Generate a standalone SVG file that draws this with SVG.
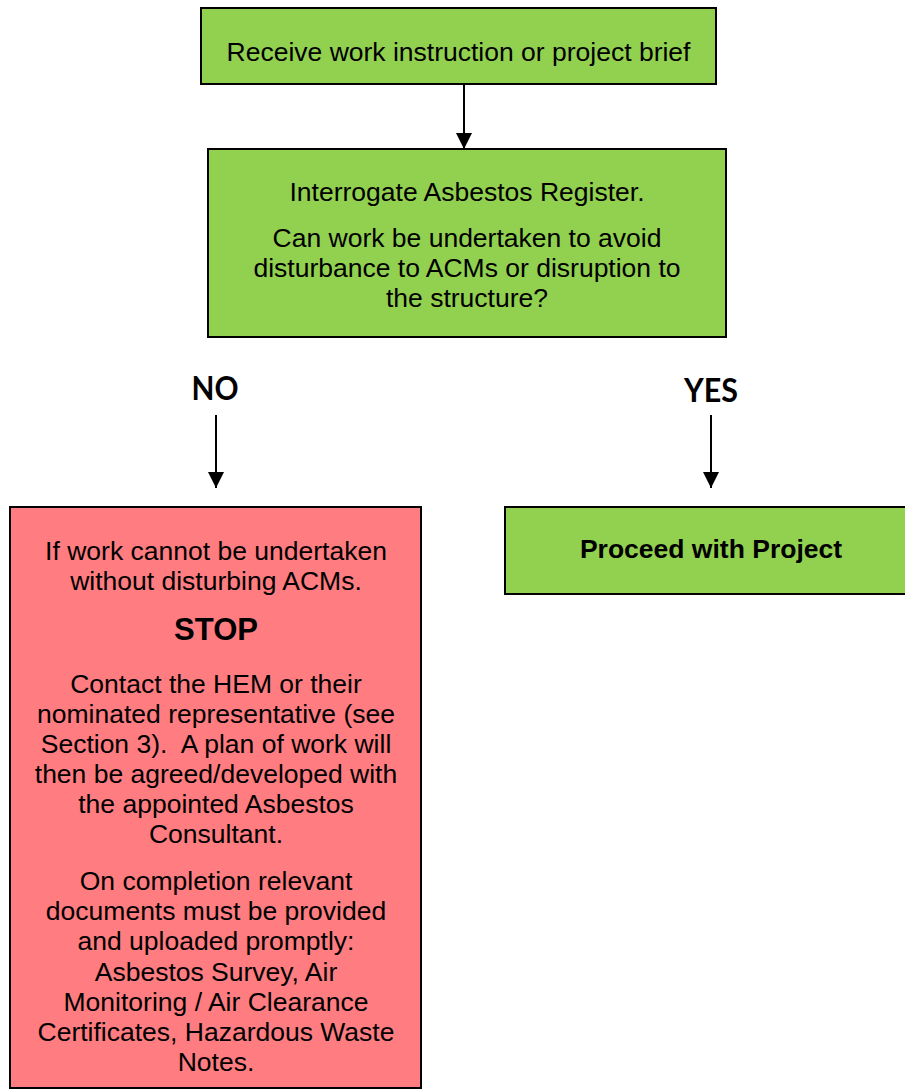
<svg xmlns="http://www.w3.org/2000/svg" width="905" height="1090" viewBox="0 0 905 1090">
<style>
.g{fill:#92D050;stroke:#000;stroke-width:2}
.r{fill:#FF7C80;stroke:#000;stroke-width:2}
.t{font-family:"Liberation Sans",Arial,sans-serif;font-size:26.5px;fill:#000;text-anchor:middle}
.b{font-weight:bold}
.lbl{font-family:Lato,"Open Sans",sans-serif;font-weight:bold;font-size:32px;fill:#000;text-anchor:middle}
.c{stroke:#000;stroke-width:2;fill:none}
</style>
<defs>
<marker id="ah" markerWidth="8" markerHeight="8" refX="8" refY="4" orient="auto" markerUnits="strokeWidth">
<path d="M0,0 L8,4 L0,8 Z" fill="#000"/>
</marker>
</defs>
<rect width="905" height="1090" fill="#fff"/>
<g id="connectors">
<line class="c" x1="464" y1="84" x2="464" y2="149" marker-end="url(#ah)"/>
<line class="c" x1="216" y1="415" x2="216" y2="488" marker-end="url(#ah)"/>
<line class="c" x1="711" y1="415" x2="711" y2="488" marker-end="url(#ah)"/>
</g>
<g id="n1">
<rect class="g" x="201" y="8" width="515" height="76"/>
<text class="t" x="458.5" y="61">Receive work instruction or project brief</text>
</g>
<g id="n2">
<rect class="g" x="208" y="149" width="518" height="188"/>
<text class="t" x="467" y="201">Interrogate Asbestos Register.</text>
<text class="t" x="467" y="247">Can work be undertaken to avoid</text>
<text class="t" x="467" y="277">disturbance to ACMs or disruption to</text>
<text class="t" x="467" y="307">the structure?</text>
</g>
<g id="no">
<text class="lbl" x="215" y="400" textLength="47" lengthAdjust="spacingAndGlyphs">NO</text>
</g>
<g id="yes">
<text class="lbl" x="711" y="402" textLength="54" lengthAdjust="spacingAndGlyphs">YES</text>
</g>
<g id="n3">
<rect class="r" x="10" y="507" width="411" height="581"/>
<text class="t" x="216" y="560">If work cannot be undertaken</text>
<text class="t" x="216" y="590">without disturbing ACMs.</text>
<text class="t b" x="216" y="640" style="font-size:31px">STOP</text>
<text class="t" x="216" y="693">Contact the HEM or their</text>
<text class="t" x="216" y="723">nominated representative (see</text>
<text class="t" x="216" y="753" xml:space="preserve">Section 3).  A plan of work will</text>
<text class="t" x="216" y="783">then be agreed/developed with</text>
<text class="t" x="216" y="813">the appointed Asbestos</text>
<text class="t" x="216" y="843">Consultant.</text>
<text class="t" x="216" y="890">On completion relevant</text>
<text class="t" x="216" y="920">documents must be provided</text>
<text class="t" x="216" y="950">and uploaded promptly:</text>
<text class="t" x="216" y="981">Asbestos Survey, Air</text>
<text class="t" x="216" y="1011">Monitoring / Air Clearance</text>
<text class="t" x="216" y="1041">Certificates, Hazardous Waste</text>
<text class="t" x="216" y="1071">Notes.</text>
</g>
<g id="n4">
<rect class="g" x="505" y="507" width="412" height="87"/>
<text class="t b" x="711" y="558">Proceed with Project</text>
</g>
</svg>
